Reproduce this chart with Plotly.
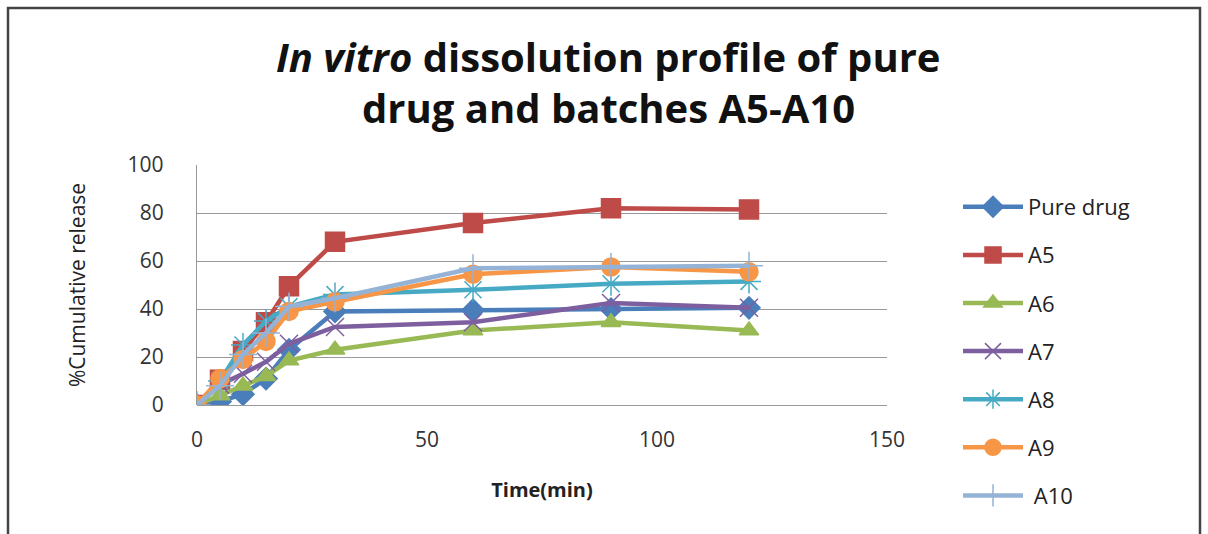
import plotly.graph_objects as go

time_min = [0, 5, 10, 15, 20, 30, 60, 90, 120]
pure_drug = [0, 1.5, 4.5, 11, 23, 39, 39.5, 40, 40.5]
a5 = [0, 10.5, 22.5, 34.5, 49.5, 68, 75.8, 82, 81.5]
a6 = [0, 4, 8, 12, 18.5, 23, 31, 34.5, 31]
a7 = [0, 8.5, 13, 18, 25.5, 32.5, 34.5, 42.5, 40.5]
a8 = [0, 10, 25, 35, 41, 46, 48, 50.5, 51.5]
a9 = [0, 11, 19, 26.5, 39, 43, 54.5, 57.5, 55.5]
a10 = [0, 8, 21, 30, 41, 44.5, 57, 57.5, 58]

series_names = ["Pure drug", "A5", "A6", "A7", "A8", "A9", "\u00a0A10"]
series_values = [pure_drug, a5, a6, a7, a8, a9, a10]
colors = ["#4A7EBB", "#BE4B48", "#98B954", "#7D5FA0", "#46AAC5", "#F79646", "#94B3D6"]
symbols = ["diamond", "square", "triangle-up", "x-thin-open", "asterisk-open", "circle", "cross-thin-open"]
sizes = [17, 19, 17, 18, 20, 18, 20]

title_lines = ["<b><i>In vitro</i> dissolution profile of pure</b>",
               "<b>drug and batches A5-A10</b>"]

fig = go.Figure()
for i, (name, vals) in enumerate(zip(series_names, series_values)):
    fig.add_trace(go.Scatter(
        x=time_min, y=vals, name=name, mode="lines+markers",
        legendgroup=f"g{i}",
        line=dict(color=colors[i], width=4.5),
        marker=dict(symbol=symbols[i], size=sizes[i], color=colors[i],
                    line=dict(color=colors[i], width=1.5)),
    ))

W, H = 1208, 534
L, R, T, B = 197, W - 887, 165, H - 405
pw, ph = W - L - R, H - T - B

def px(xp):
    return (xp - L) / pw

def py(yp):
    return (H - B - yp) / ph

fig.update_layout(
    width=W, height=H,
    margin=dict(l=L, r=R, t=T, b=B),
    paper_bgcolor="white", plot_bgcolor="white",
    font=dict(family="Open Sans, DejaVu Sans, sans-serif", color="#222"),
    xaxis=dict(
        range=[0, 150], tickvals=[0, 50, 100, 150], showgrid=False,
        zeroline=False, showline=False, ticks="",
        tickfont=dict(size=21, color="#333"), ticklabelstandoff=20,
        title=dict(text="<b>Time(min)</b>", font=dict(size=20, color="#222"), standoff=30),
    ),
    yaxis=dict(
        range=[0, 100], tickvals=[0, 20, 40, 60, 80, 100], showgrid=True,
        gridcolor="#999", gridwidth=1.3, zeroline=True, zerolinecolor="#999", zerolinewidth=1.3,
        showline=True, linecolor="#999", linewidth=1.3, ticks="",
        tickfont=dict(size=21, color="#333"), ticklabelstandoff=28,
        title=dict(text="%Cumulative release", font=dict(size=21, color="#222"), standoff=36),
    ),
    legend=dict(
        x=958 / W, y=1 - 186 / H, xref="container", yref="container",
        xanchor="left", yanchor="top", maxheight=1,
        font=dict(size=22, color="#222"), tracegroupgap=16.5, itemwidth=60,
        bgcolor="rgba(0,0,0,0)",
    ),
    showlegend=True,
)

for txt, yc in zip(title_lines, [56, 107]):
    fig.add_annotation(text=txt, xref="paper", yref="paper", x=px(608), y=py(yc),
                       xanchor="center", yanchor="middle", showarrow=False,
                       font=dict(size=40, family="Open Sans, sans-serif", color="#111"))

# outer chart frame
fig.add_shape(type="rect", xref="paper", yref="paper",
              x0=px(8), x1=px(1200), y0=py(545), y1=py(8),
              line=dict(color="#444", width=2.5), fillcolor="rgba(0,0,0,0)", layer="below")

fig.write_html("out.html")
